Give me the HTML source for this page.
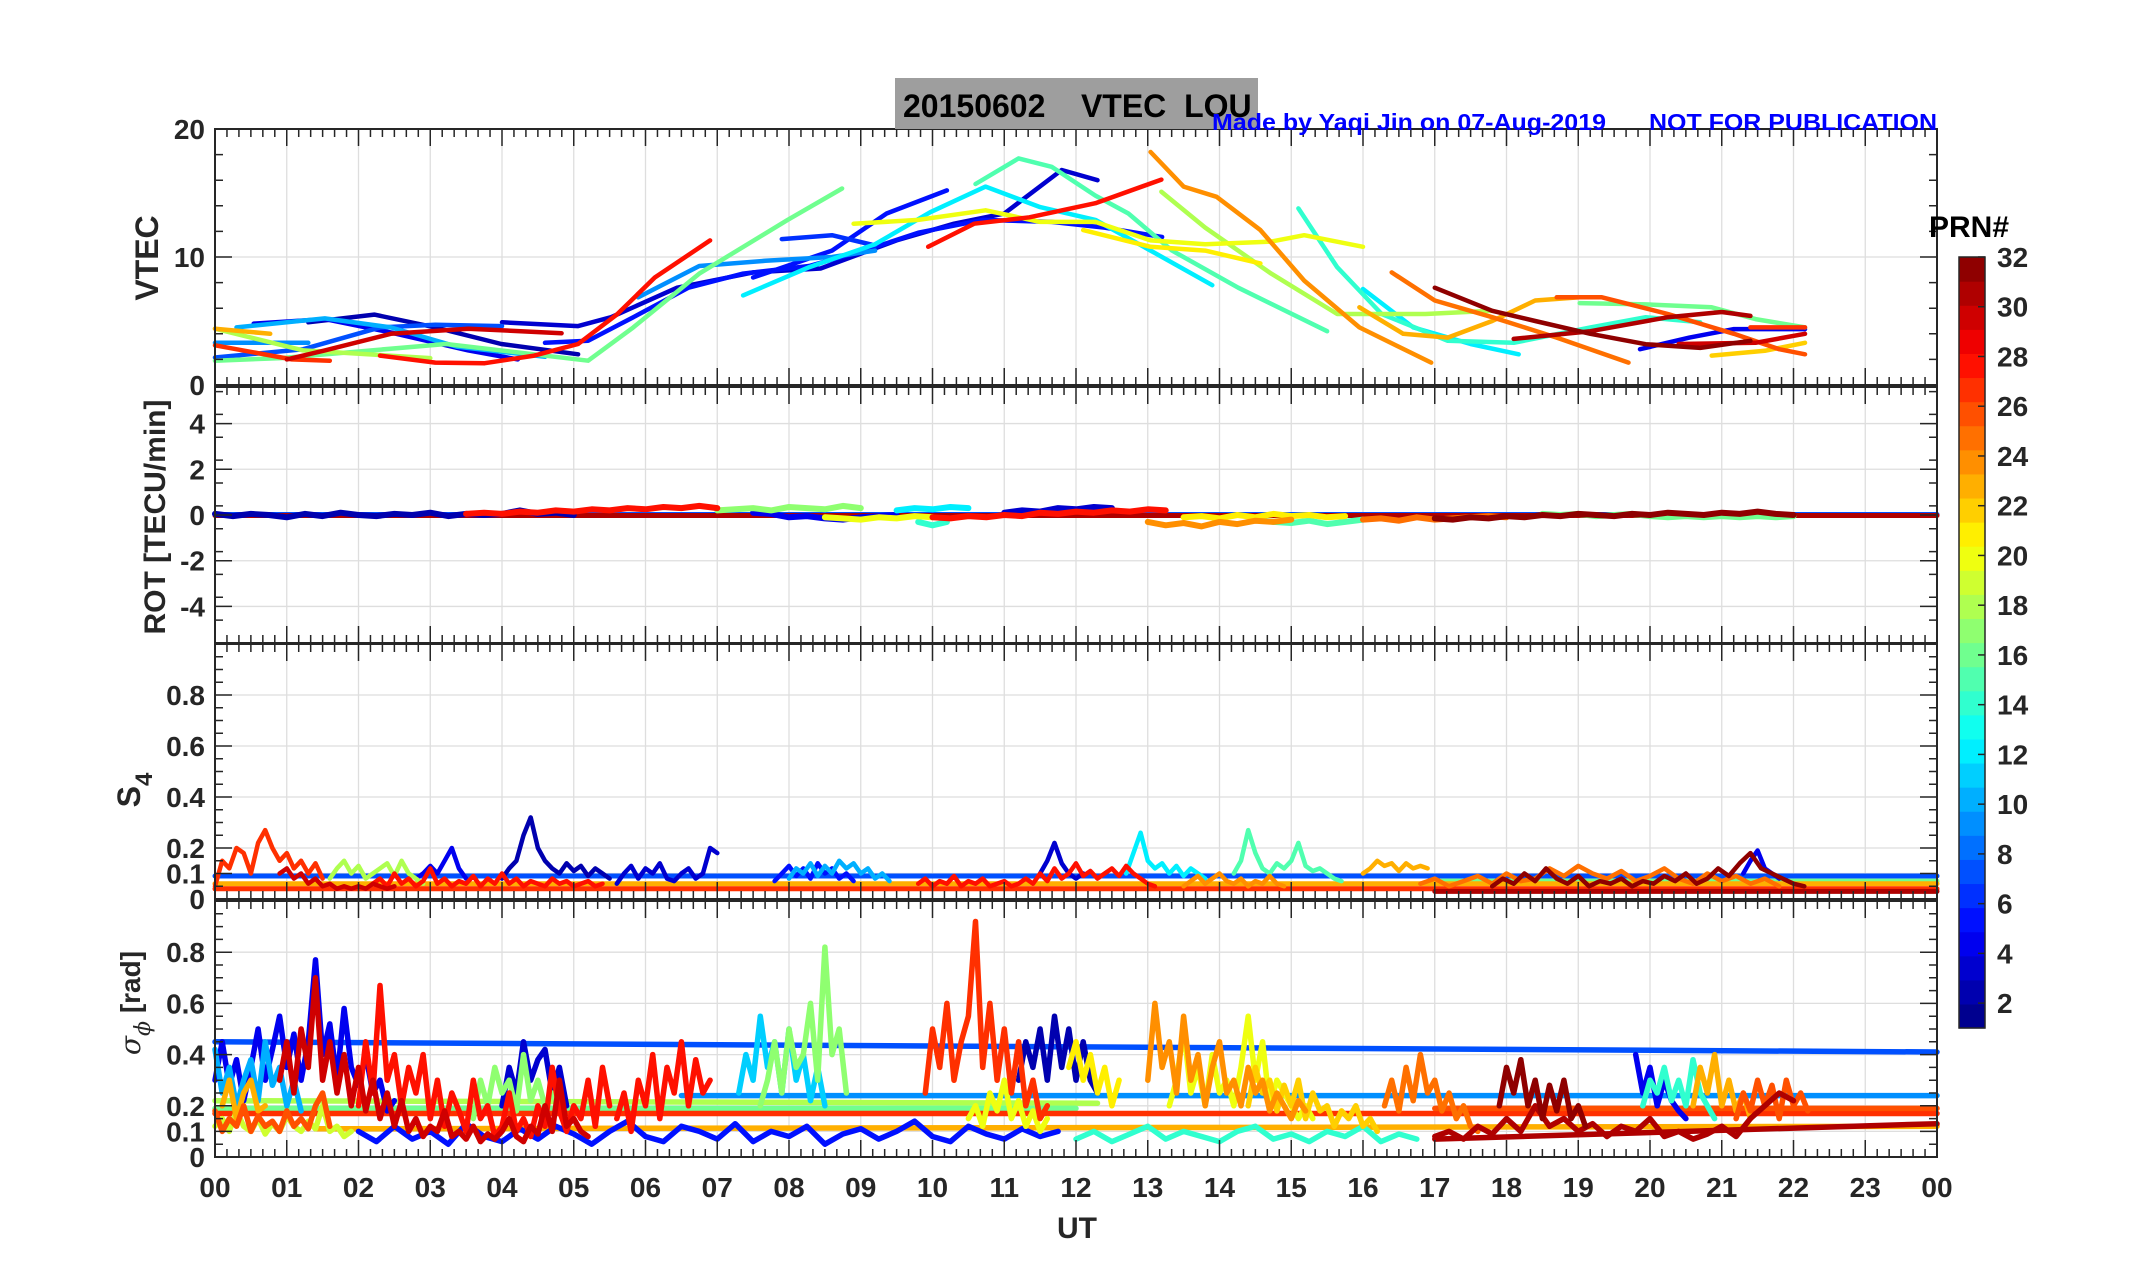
<!DOCTYPE html>
<html><head><meta charset="utf-8"><title>20150602 VTEC LOU</title>
<style>
html,body{margin:0;padding:0;background:#fff;}
svg{display:block;font-family:"Liberation Sans",Arial,sans-serif;}
</style></head>
<body>
<svg id="fig" xmlns="http://www.w3.org/2000/svg" width="2153" height="1286" viewBox="0 0 2153 1286">
<rect x="0" y="0" width="2153" height="1286" fill="#fff"/>
<g id="grid"></g>
<g id="marks"></g>
<g id="axes"></g>
<rect x="895" y="78" width="363" height="51" fill="#9e9e9e"/>
<text x="903" y="117" font-size="32" font-weight="bold" fill="#000" xml:space="preserve" style="white-space:pre">20150602    VTEC  LOU</text>
<text x="1212" y="130" font-size="23" font-weight="bold" fill="#0000ff" textLength="394" lengthAdjust="spacingAndGlyphs">Made by Yaqi Jin on 07-Aug-2019</text>
<text x="1649" y="130" font-size="23" font-weight="bold" fill="#0000ff" textLength="288" lengthAdjust="spacingAndGlyphs">NOT FOR PUBLICATION</text>
<text x="1929" y="237" font-size="30" font-weight="bold" fill="#000">PRN#</text>
<text transform="translate(158,258) rotate(-90)" text-anchor="middle" font-size="32" font-weight="bold" fill="#262626">VTEC</text>
<text transform="translate(165,517) rotate(-90)" text-anchor="middle" font-size="30" font-weight="bold" fill="#262626">ROT [TECU/min]</text>
<g transform="translate(140,790) rotate(-90)">
<text x="0" y="0" text-anchor="middle" font-size="32" font-weight="bold" fill="#262626">S<tspan font-size="24" dy="12">4</tspan></text></g>
<g transform="translate(140,1003) rotate(-90)">
<text x="0" y="0" text-anchor="middle" font-size="28" fill="#262626"><tspan font-family="DejaVu Serif, serif" font-style="italic">σ</tspan><tspan font-size="22" dy="10" font-family="DejaVu Serif, serif" font-style="italic">ϕ</tspan><tspan dy="-10" font-weight="bold"> [rad]</tspan></text></g>
<text x="1077" y="1238" text-anchor="middle" font-size="30" font-weight="bold" fill="#262626">UT</text>
<g id="cbar"></g>
</svg>
<script>
// ---------- DATA ----------
const vtecPrn = [2,4,10,7,9,18,23,27,30,28,16,3,5,9,12,6,5,15,20,21,28,24,18,14,12,23,25,32,16,26,31,30,4,27,22];
const vtecTimes = [
 [1.3,2.22,3.07,3.99,5.06],
 [0.54,1.53,2.45,3.53,4.22],
 [0.3,1.53,2.45,3.37,4.6],
 [0,1.23,2.3,3.07,4.0],
 [0,1.3],
 [0,1.23,3.0],
 [0,0.77],
 [0,1.07,1.6],
 [1.0,1.53,2.45,3.53,4.83],
 [2.3,3.07,3.76,4.45,5.06,5.6,6.13,6.9],
 [0,0.92,3.22,5.2,5.83,6.75,7.98,8.74],
 [4.0,5.06,5.52,6.44,7.5,8.44,9.5,10.3,11.0,11.8,12.3],
 [4.6,5.2,5.83,6.6,7.36,8.28,9.05,9.8,10.7,11.66,12.4,13.2],
 [5.9,6.75,7.67,8.6,9.2],
 [7.36,8.28,9.2,9.97,10.74,11.5,12.27,13.04,13.9],
 [7.9,8.6,9.2],
 [7.5,8.6,9.36,10.2],
 [10.6,11.2,11.66,12.27,12.73,13.34,14.26,15.5],
 [8.9,9.8,10.74,11.5,12.27,13.04,13.8,14.72,15.18,16.0],
 [12.1,13.04,13.8,14.57],
 [9.94,10.58,11.35,12.27,13.19],
 [13.04,13.5,13.96,14.57,15.18,15.95,16.95],
 [13.19,13.8,14.72,15.64,16.87,17.8],
 [15.1,15.64,16.26,17.18,18.1,19.17,19.94,20.7],
 [16.0,16.7,17.5,18.17],
 [15.95,16.56,17.18,17.8,18.4,19.02],
 [16.4,17.0,17.8,18.7,19.7],
 [17.0,17.8,18.4,19.17,19.94,20.7,21.4],
 [19.02,19.94,20.86,21.47,22.16],
 [18.7,19.33,20.25,21.17,21.8,22.16],
 [18.1,19.17,20.25,21.0,21.4],
 [20.4,21.47,22.16],
 [19.86,20.55,21.17,22.16],
 [21.4,22.16],
 [20.86,21.6,22.16]
];
const vtecValues = [
 [4.9,5.5,4.5,3.2,2.4],
 [4.8,5.15,4.1,2.7,2.0],
 [4.5,5.2,4.5,3.0,2.2],
 [2.15,2.8,4.5,4.7,4.6],
 [3.3,3.3],
 [4.4,2.7,2.1],
 [4.4,4.0],
 [3.1,2.0,1.9],
 [2.0,2.7,4.0,4.4,4.05],
 [2.3,1.75,1.7,2.3,3.2,5.5,8.4,11.3],
 [1.9,2.1,3.2,1.9,4.5,8.7,12.9,15.35],
 [4.9,4.6,5.3,7.6,8.8,9.1,11.3,12.6,13.4,16.8,16.0],
 [3.3,3.45,5.3,7.6,8.7,9.3,10.5,11.9,12.9,12.74,12.3,11.56],
 [6.85,9.3,9.7,10.0,10.5],
 [7.0,9.2,11.0,13.5,15.5,13.9,12.9,10.5,7.8],
 [11.4,11.7,10.9],
 [8.4,10.5,13.4,15.2],
 [15.7,17.7,17.05,14.8,13.4,10.5,7.6,4.2],
 [12.6,12.9,13.65,12.74,12.74,11.3,11.0,11.2,11.7,10.8],
 [12.1,10.8,10.5,9.5],
 [10.8,12.6,13.1,14.2,16.05],
 [18.2,15.5,14.7,12.1,8.16,4.5,1.75],
 [15.1,12.3,8.7,5.55,5.55,5.8],
 [13.8,9.2,5.55,3.45,3.3,4.5,5.3,4.9],
 [7.5,4.5,3.2,2.4],
 [6.07,4.0,3.7,5.0,6.6,6.85],
 [8.8,6.6,5.3,3.7,1.75],
 [7.6,5.8,5.0,4.0,3.19,2.9,3.45],
 [6.4,6.3,6.07,5.15,4.5],
 [6.85,6.85,5.55,4.0,2.8,2.4],
 [3.6,4.2,5.3,5.7,5.4],
 [3.2,3.3,4.0],
 [2.8,3.7,4.37,4.37],
 [4.5,4.5],
 [2.3,2.67,3.3]
];

const rotPrn = [2,28,17,4,20,12,14,28,3,24,15,21,25,32,16];
const rotStart = [0,3.5,7.0,7.5,8.5,9.5,9.8,10.0,11.0,13.0,14.5,13.5,16.0,17.0,18.5];
const rotStep = [0.25,0.25,0.25,0.25,0.25,0.25,0.2,0.25,0.25,0.25,0.25,0.25,0.25,0.25,0.25];
const rotValues = [
 [0.05,-0.05,0.05,0,-0.1,0.05,-0.05,0.1,0,-0.05,0.05,0,0.1,-0.05,0.05,0,0.05,0.2,0.05,0.1,0],
 [0.05,0.1,0.05,0.15,0.1,0.2,0.15,0.25,0.2,0.3,0.25,0.35,0.3,0.4,0.3],
 [0.2,0.25,0.3,0.2,0.35,0.3,0.25,0.4,0.3],
 [0.1,0.05,-0.1,-0.05,-0.15,-0.2,-0.1,-0.05,0],
 [-0.1,-0.15,-0.2,-0.1,-0.15,-0.05,-0.1],
 [0.2,0.3,0.25,0.35,0.3],
 [-0.3,-0.45,-0.3],
 [-0.1,-0.15,-0.05,-0.1,0,-0.05,0.1,0.05,0.15,0.1,0.2,0.15,0.25,0.2],
 [0.1,0.2,0.15,0.3,0.25,0.35,0.3],
 [-0.3,-0.45,-0.35,-0.5,-0.3,-0.4,-0.25,-0.3,-0.2],
 [-0.2,-0.3,-0.35,-0.25,-0.4,-0.3,-0.2],
 [-0.1,-0.05,-0.15,0,-0.1,0.05,-0.05,0,-0.1,-0.05],
 [-0.2,-0.15,-0.25,-0.1,-0.2,-0.15,-0.1,-0.05,-0.1],
 [-0.15,-0.2,-0.1,-0.15,-0.05,-0.1,0,-0.05,0.05,0,-0.05,0.05,0,0.1,0.05,0,0.1,0.05,0.15,0.05,0],
 [0.05,0,0.05,-0.05,0,0.05,-0.05,-0.1,-0.05,-0.1,-0.05,-0.1,-0.05,-0.1,-0.05]
];
const rotFlatPrn = [7,31];
const rotFlatT0 = [0,0];
const rotFlatT1 = [24,24];
const rotFlatVal = [0.02,-0.02];

const s4Prn = [27,30,18,4,2,3,28,10,5,3,28,12,15,24,23,25,32,4];
const s4Start = [0,0.9,1.6,2.8,4.0,5.6,2.2,8.0,7.8,11.5,9.8,12.7,14.2,13.5,16.0,16.8,17.8,21.3];
const s4Step = [0.1,0.1,0.1,0.1,0.1,0.1,0.1,0.1,0.1,0.1,0.1,0.1,0.1,0.1,0.1,0.2,0.15,0.1];
const s4Values = [
 [0.05,0.15,0.12,0.2,0.18,0.1,0.22,0.27,0.2,0.15,0.18,0.12,0.15,0.1,0.14,0.08],
 [0.1,0.12,0.08,0.1,0.06,0.08,0.05,0.06,0.04,0.05,0.04,0.05,0.04,0.06,0.05,0.04,0.05],
 [0.08,0.12,0.15,0.1,0.13,0.08,0.1,0.12,0.14,0.09,0.15,0.1,0.08,0.06],
 [0.08,0.1,0.13,0.1,0.15,0.2,0.12,0.08],
 [0.08,0.12,0.15,0.25,0.32,0.2,0.15,0.12,0.1,0.14,0.11,0.13,0.09,0.12,0.1,0.08],
 [0.06,0.1,0.13,0.08,0.12,0.1,0.14,0.08,0.07,0.1,0.12,0.08,0.1,0.2,0.18],
 [0.06,0.08,0.05,0.1,0.06,0.08,0.05,0.07,0.12,0.06,0.08,0.05,0.07,0.06,0.09,0.05,0.08,0.06,0.1,0.06,0.08,0.05,0.07,0.06,0.05,0.08,0.06,0.07,0.05,0.06,0.07,0.05,0.06],
 [0.08,0.12,0.1,0.14,0.09,0.13,0.1,0.15,0.12,0.14,0.1,0.12,0.08,0.1,0.07],
 [0.07,0.1,0.13,0.09,0.12,0.08,0.14,0.1,0.12,0.08,0.1,0.07],
 [0.1,0.15,0.22,0.14,0.1,0.08,0.1],
 [0.06,0.08,0.05,0.07,0.06,0.09,0.05,0.07,0.06,0.08,0.05,0.06,0.07,0.05,0.06,0.08,0.06,0.1,0.07,0.12,0.08,0.1,0.14,0.09,0.11,0.08,0.1,0.12,0.09,0.13,0.1,0.08,0.06,0.05],
 [0.1,0.18,0.26,0.15,0.12,0.14,0.1,0.13,0.09,0.12,0.1,0.08],
 [0.1,0.15,0.27,0.18,0.12,0.1,0.14,0.12,0.15,0.22,0.13,0.11,0.12,0.1,0.08,0.07],
 [0.05,0.07,0.09,0.06,0.08,0.1,0.07,0.06,0.08,0.05,0.07,0.06,0.09,0.06,0.05],
 [0.1,0.12,0.15,0.13,0.14,0.11,0.14,0.12,0.13,0.12],
 [0.06,0.08,0.05,0.07,0.09,0.06,0.1,0.07,0.08,0.12,0.09,0.13,0.1,0.08,0.11,0.07,0.09,0.12,0.08,0.06,0.1,0.07,0.09,0.06,0.08,0.05],
 [0.05,0.08,0.06,0.1,0.07,0.12,0.08,0.06,0.09,0.05,0.07,0.06,0.08,0.05,0.07,0.06,0.09,0.07,0.1,0.06,0.08,0.12,0.09,0.14,0.18,0.12,0.1,0.08,0.06,0.05],
 [0.1,0.15,0.19,0.12,0.1,0.08]
];
const s4FlatPrn = [7,16,23,27,31];
const s4FlatT0 = [0,17,0,0,17];
const s4FlatT1 = [24,24,24,24,24];
const s4FlatVal = [0.09,0.07,0.06,0.04,0.03];

const sigPrn = [4,10,19,26,23,30,28,28,3,17,11,17,5,27,2,20,21,24,20,22,25,32,31,4,14,23,26,14];
const sigStart = [0,0,0,0,0.1,0.9,2.0,5.6,4.0,3.6,7.3,7.6,2.0,9.9,11.2,10.5,11.9,13.0,13.3,14.4,16.3,17.9,17.0,19.8,19.9,20.6,21.2,12.0];
const sigStep = [0.1,0.1,0.1,0.1,0.1,0.1,0.1,0.1,0.1,0.1,0.1,0.1,0.25,0.1,0.1,0.1,0.1,0.1,0.1,0.1,0.1,0.1,0.2,0.1,0.1,0.1,0.1,0.25];
const sigValues = [
 [0.3,0.45,0.28,0.38,0.22,0.35,0.5,0.3,0.42,0.55,0.35,0.48,0.3,0.45,0.77,0.4,0.52,0.3,0.58,0.35,0.28,0.4,0.25,0.3,0.18,0.22],
 [0.42,0.25,0.35,0.2,0.3,0.38,0.22,0.45,0.28,0.35,0.2,0.3,0.18],
 [0.12,0.15,0.1,0.18,0.12,0.1,0.15,0.09,0.13,0.1,0.16,0.12,0.1,0.14,0.11,0.2,0.1,0.12,0.08,0.1],
 [0.18,0.1,0.15,0.12,0.2,0.1,0.16,0.12,0.14,0.1,0.18,0.12,0.15,0.11,0.2,0.25,0.12],
 [0.2,0.3,0.15,0.25,0.3,0.18,0.2],
 [0.3,0.45,0.25,0.5,0.35,0.7,0.3,0.45,0.25,0.4,0.2,0.35,0.18,0.3,0.15,0.25,0.12,0.22,0.1,0.15,0.08,0.12,0.1,0.18,0.08,0.1,0.07,0.12,0.06,0.09,0.07,0.1,0.15,0.08,0.06,0.12,0.09,0.2,0.1,0.3,0.12,0.15,0.1,0.08],
 [0.2,0.45,0.25,0.67,0.3,0.4,0.2,0.35,0.25,0.4,0.15,0.3,0.12,0.25,0.18,0.1,0.3,0.15,0.2,0.08,0.12,0.25,0.1,0.15,0.08,0.2,0.12,0.35,0.18,0.1,0.2,0.15,0.3,0.12,0.35,0.2],
 [0.15,0.25,0.1,0.3,0.2,0.4,0.15,0.35,0.25,0.45,0.2,0.38,0.25,0.3],
 [0.2,0.35,0.25,0.45,0.3,0.38,0.42,0.25,0.35,0.2],
 [0.15,0.3,0.2,0.35,0.25,0.3,0.18,0.4,0.22,0.3,0.2,0.25,0.18],
 [0.25,0.4,0.3,0.55,0.35,0.45,0.25,0.5,0.3,0.4,0.22,0.35,0.2],
 [0.2,0.3,0.45,0.25,0.5,0.35,0.4,0.6,0.3,0.82,0.4,0.5,0.25],
 [0.1,0.06,0.12,0.07,0.1,0.05,0.13,0.08,0.06,0.11,0.07,0.12,0.09,0.05,0.1,0.14,0.08,0.06,0.12,0.1,0.07,0.13,0.06,0.1,0.08,0.12,0.05,0.09,0.11,0.07,0.1,0.14,0.08,0.06,0.12,0.09,0.07,0.11,0.08,0.1],
 [0.25,0.5,0.35,0.6,0.3,0.45,0.55,0.92,0.35,0.6,0.3,0.5,0.25,0.45,0.2,0.3,0.15,0.2],
 [0.3,0.45,0.35,0.5,0.3,0.55,0.35,0.5,0.3,0.45,0.3,0.25],
 [0.15,0.2,0.12,0.25,0.18,0.3,0.15,0.22,0.12,0.18,0.1,0.15],
 [0.35,0.45,0.3,0.4,0.25,0.35,0.2,0.3],
 [0.3,0.6,0.35,0.45,0.25,0.55,0.3,0.4,0.2,0.35,0.45,0.25,0.3,0.2,0.35,0.25,0.3,0.18,0.25,0.2,0.15,0.22,0.18],
 [0.2,0.3,0.5,0.25,0.35,0.2,0.4,0.25,0.3,0.2,0.35,0.55,0.3,0.45,0.2,0.3,0.25,0.2,0.15,0.2,0.15],
 [0.2,0.35,0.25,0.3,0.18,0.28,0.2,0.3,0.15,0.25,0.18,0.2,0.12,0.18,0.15,0.2,0.12,0.15,0.1],
 [0.2,0.3,0.18,0.35,0.22,0.4,0.25,0.3,0.18,0.25,0.15,0.2,0.12,0.1],
 [0.2,0.35,0.25,0.38,0.2,0.3,0.15,0.28,0.18,0.3,0.15,0.2,0.12],
 [0.08,0.1,0.07,0.12,0.09,0.15,0.1,0.2,0.12,0.15,0.1,0.13,0.08,0.12,0.1,0.15,0.08,0.1,0.07,0.09,0.12,0.08,0.15,0.2,0.25,0.22],
 [0.4,0.25,0.35,0.2,0.3,0.22,0.18,0.15],
 [0.2,0.3,0.25,0.35,0.22,0.3,0.2,0.38,0.25,0.2,0.15],
 [0.2,0.35,0.25,0.4,0.2,0.3,0.18,0.25,0.15],
 [0.15,0.25,0.18,0.3,0.2,0.28,0.15,0.3,0.2,0.25,0.18],
 [0.07,0.1,0.06,0.09,0.12,0.07,0.1,0.08,0.06,0.1,0.12,0.07,0.09,0.06,0.1,0.08,0.12,0.06,0.09,0.07]
];
const sigFlatPrn = [7,9,18,16,27,26,23,31];
const sigFlatT0 = [0,6.5,0,0,0,17,1.4,17];
const sigFlatT1 = [24,24,12.3,12,24,24,24,24];
const sigFlatV0 = [0.45,0.24,0.22,0.19,0.17,0.19,0.11,0.07];
const sigFlatV1 = [0.41,0.24,0.21,0.19,0.17,0.19,0.12,0.13];

const hourLabels = ["00","01","02","03","04","05","06","07","08","09","10","11","12","13","14","15","16","17","18","19","20","21","22","23","00"];
const vtecTicks = [0,10,20];
const rotTicks = [-4,-2,0,2,4];
const s4Ticks = [0,0.1,0.2,0.4,0.6,0.8];
const sigTicks = [0,0.1,0.2,0.4,0.6,0.8];
const prnTicks = [2,4,6,8,10,12,14,16,18,20,22,24,26,28,30,32];

// ---------- LAYOUT ----------
const NS = "http://www.w3.org/2000/svg";
const X0 = 215, X1 = 1937;
function xOf(h){ return X0 + (h/24)*(X1-X0); }
const panels = [
 {name:"vtec", top:129, bot:385, min:0, max:20, ticks:vtecTicks, minor:2, fmt:v=>String(v)},
 {name:"rot", top:387, bot:643, min:-5.6, max:5.6, ticks:rotTicks, minor:1, fmt:v=>String(v)},
 {name:"s4", top:644, bot:899, min:0, max:1, ticks:s4Ticks, minor:0.05, fmt:v=>String(v)},
 {name:"sigma-phi", top:901, bot:1157, min:0, max:1, ticks:sigTicks, minor:0.05, fmt:v=>String(v)}
];
function yScale(p){ return v => p.bot - (v-p.min)/(p.max-p.min)*(p.bot-p.top); }

function jet(prn){
  const x = (prn-0.5)/32;
  const c = t => Math.max(0, Math.min(1, t));
  const r = c(1.5-Math.abs(4*x-3)), g = c(1.5-Math.abs(4*x-2)), b = c(1.5-Math.abs(4*x-1));
  return "rgb("+Math.round(r*255)+","+Math.round(g*255)+","+Math.round(b*255)+")";
}
function el(tag, attrs, parent){
  const e = document.createElementNS(NS, tag);
  for (const k in attrs) e.setAttribute(k, attrs[k]);
  parent.appendChild(e);
  return e;
}
const gGrid = document.getElementById("grid");
const gMarks = document.getElementById("marks");
const gAxes = document.getElementById("axes");

panels.forEach(p => {
  const y = yScale(p);
  for (let h=1; h<24; h++){
    const gl = el("line",{x1:xOf(h),x2:xOf(h),y1:p.top,y2:p.bot,stroke:"#dedede","stroke-width":1.3},gGrid);
    
    
  }
  p.ticks.forEach(v => {
    if (v===p.min) return;
    const gl = el("line",{x1:X0,x2:X1,y1:y(v),y2:y(v),stroke:"#dedede","stroke-width":1.3},gGrid);
    
    
  });
  const box = el("rect",{x:X0,y:p.top,width:X1-X0,height:p.bot-p.top,fill:"none",stroke:"#262626","stroke-width":2},gAxes);
  
  
  let d = "";
  for (let i=0;i<=144;i++){
    const x = xOf(i/6);
    const L = (i%6===0)?17:8;
    d += "M"+x+" "+p.bot+"v"+(-L)+"M"+x+" "+p.top+"v"+L;
  }
  const xt = el("path",{d:d,stroke:"#262626","stroke-width":1.5,fill:"none"},gAxes);
  
  
  let dy = "";
  const n = Math.round((p.max-p.min)/p.minor);
  for (let i=0;i<=n;i++){
    const v = p.min + i*p.minor;
    if (v < p.min-1e-9 || v > p.max+1e-9) continue;
    dy += "M"+X0+" "+y(v)+"h8M"+X1+" "+y(v)+"h-8";
  }
  p.ticks.forEach(v => { dy += "M"+X0+" "+y(v)+"h17M"+X1+" "+y(v)+"h-17"; });
  const yt = el("path",{d:dy,stroke:"#262626","stroke-width":1.5,fill:"none"},gAxes);
  
  
  p.ticks.forEach(v => {
    const t = el("text",{x:205,y:y(v)+10,"text-anchor":"end","font-size":28,"font-weight":"bold",fill:"#262626"},gAxes);
    t.textContent = p.fmt(v);
    
    
  });
});
hourLabels.forEach((lab,i) => {
  const t = el("text",{x:xOf(i),y:1197,"text-anchor":"middle","font-size":28,"font-weight":"bold",fill:"#262626"},gAxes);
  t.textContent = lab;
  
  
});

function drawLine(pts, prn, width, name, p){
  const clip = pts.map(q => [q[0], Math.max(p.top, Math.min(p.bot, q[1]))]);
  const pl = el("polyline",{points:clip.map(q=>q[0].toFixed(1)+","+q[1].toFixed(1)).join(" "),fill:"none",stroke:jet(prn),"stroke-width":width,"stroke-linejoin":"round","stroke-linecap":"round"},gMarks);
  
  
}
function drawFlat(p, prns, t0, t1, v0, v1, width, nm){
  const y = yScale(p);
  prns.forEach((prn,i) => drawLine([[xOf(t0[i]),y(v0[i])],[xOf(t1[i]),y(v1[i])]], prn, width, nm+'-prn'+prn, p));
}
function drawStep(p, prns, starts, steps, vals, width, nm){
  const y = yScale(p);
  const order = prns.map((_,i)=>i).sort((a,b)=>prns[a]-prns[b]);
  order.forEach(i => {
    const pts = vals[i].map((v,k) => [xOf(starts[i]+k*steps[i]), y(v)]);
    drawLine(pts, prns[i], width, nm+'-prn'+prns[i], p);
  });
}
(function(){
  const p = panels[0], y = yScale(p);
  const order = vtecPrn.map((_,i)=>i).sort((a,b)=>vtecPrn[a]-vtecPrn[b]);
  order.forEach(i => {
    const pts = vtecTimes[i].map((t,k) => [xOf(t), y(vtecValues[i][k])]);
    drawLine(pts, vtecPrn[i], 4.5, 'vtec-arc-prn'+vtecPrn[i], p);
  });
})();
drawFlat(panels[1], rotFlatPrn, rotFlatT0, rotFlatT1, rotFlatVal, rotFlatVal, 5, 'rot-baseline');
drawStep(panels[1], rotPrn, rotStart, rotStep, rotValues, 6, 'rot-series');
drawFlat(panels[2], s4FlatPrn, s4FlatT0, s4FlatT1, s4FlatVal, s4FlatVal, 5, 's4-baseline');
drawStep(panels[2], s4Prn, s4Start, s4Step, s4Values, 4.5, 's4-series');
drawFlat(panels[3], sigFlatPrn, sigFlatT0, sigFlatT1, sigFlatV0, sigFlatV1, 5.5, 'sigma-baseline');
drawStep(panels[3], sigPrn, sigStart, sigStep, sigValues, 5.5, 'sigma-series');

(function(){
  const g = document.getElementById("cbar");
  const top = 257, bot = 1028, cx = 1959, cw = 26;
  const h = (bot-top)/32;
  for (let prn=1; prn<=32; prn++){
    const r = el("rect",{x:cx,y:(bot-prn*h).toFixed(2),width:cw,height:(h+0.6).toFixed(2),fill:jet(prn)},g);
    
    
  }
  const fr = el("rect",{x:cx,y:top,width:cw,height:bot-top,fill:"none",stroke:"#262626","stroke-width":1.5},g);
  
  
  prnTicks.forEach(v => {
    const yy = top + (32-v)*((bot-top)/31);
    const tk = el("line",{x1:cx+cw-7,x2:cx+cw,y1:yy,y2:yy,stroke:"#262626","stroke-width":1.5},g);
    
    
    const t = el("text",{x:1997,y:yy+10,"font-size":28,"font-weight":"bold",fill:"#262626"},g);
    t.textContent = String(v);
    
    
  });
})();
</script>
</body></html>
